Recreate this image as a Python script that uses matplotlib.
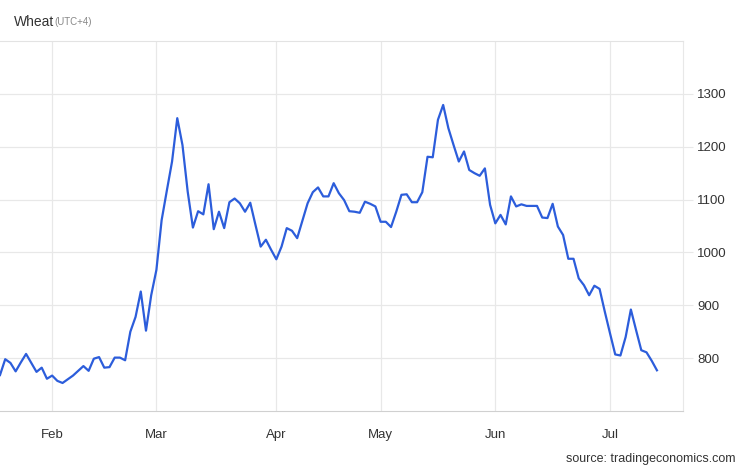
import matplotlib
matplotlib.use("Agg")
import matplotlib.pyplot as plt
import numpy as np
import pandas as pd

plt.rcParams['font.family'] = ['Liberation Sans', 'DejaVu Sans']

# trading days, Jan 18 to Jul 14 2022 (Good Friday closed)
dates = pd.bdate_range('2022-01-18', periods=127, freq='C', holidays=['2022-04-15'])

# wheat price
prices = [
    768, 798, 791, 775, 792, 808, 791, 774, 782, 761,
    767, 757, 753, 760, 767, 776, 785, 776, 799, 802,
    782, 783, 801, 801, 796, 850, 878, 926, 852, 919,
    967, 1061, 1117, 1172, 1254, 1203, 1115, 1047, 1078, 1072,
    1129, 1044, 1077, 1046, 1095, 1102, 1093, 1077, 1094, 1052,
    1011, 1024, 1005, 987, 1011, 1046, 1041, 1027, 1060, 1093,
    1114, 1123, 1106, 1106, 1131, 1112, 1099, 1078, 1077, 1075,
    1096, 1092, 1087, 1058, 1058, 1048, 1077, 1109, 1110, 1095,
    1095, 1114, 1181, 1180, 1251, 1279, 1235, 1203, 1172, 1191,
    1156, 1150, 1145, 1159, 1090, 1055, 1071, 1053, 1106, 1087,
    1091, 1088, 1088, 1088, 1066, 1065, 1092, 1049, 1033, 988,
    988, 951, 938, 919, 937, 931, 888, 847, 807, 805,
    840, 892, 853, 815, 811, 795, 777,
]
y_ticks = [800, 900, 1000, 1100, 1200, 1300]

fig = plt.figure(figsize=(7.46, 4.68), dpi=100)
ax = fig.add_axes([0, 57 / 468, 683 / 746, 370 / 468])

x = np.arange(len(prices))
ax.plot(x, prices, color='#2c5ddb', lw=1.6, solid_joinstyle='round')

# month ticks at first trading day of each month
month_pos = []
month_lab = []
for i in range(1, len(dates)):
    if dates[i].month != dates[i - 1].month:
        month_pos.append(i)
        month_lab.append(dates[i].strftime('%b'))

ax.set_xlim(0, 131)
ax.set_ylim(700, 1400)
ax.set_xticks(month_pos)
ax.set_xticklabels(month_lab)
ax.set_yticks(y_ticks)
ax.yaxis.tick_right()
ax.grid(True, color='#e8e8e8', lw=0.9)
ax.set_axisbelow(True)
ax.tick_params(axis='x', length=0, pad=13, labelsize=9.5, labelcolor='#333333')
ax.tick_params(axis='y', length=7, color='#e8e8e8', pad=3, labelsize=9.5,
               labelcolor='#333333')

ax.spines['left'].set_visible(False)
ax.spines['bottom'].set_color('#d0d0d0')
ax.spines['top'].set_color('#e3e3e3')
ax.spines['right'].set_color('#e8e8e8')

fig.text(14 / 746, 1 - 22 / 468, 'Wheat', fontsize=10, color='#333333', va='center')
fig.text(54 / 746, 1 - 22 / 468, '(UTC+4)', fontsize=7, color='#888888', va='center')
fig.text(735 / 746, 1 - 459 / 468, 'source: tradingeconomics.com', fontsize=9,
         color='#333333', ha='right', va='center')

fig.savefig('out.png', dpi=100)
